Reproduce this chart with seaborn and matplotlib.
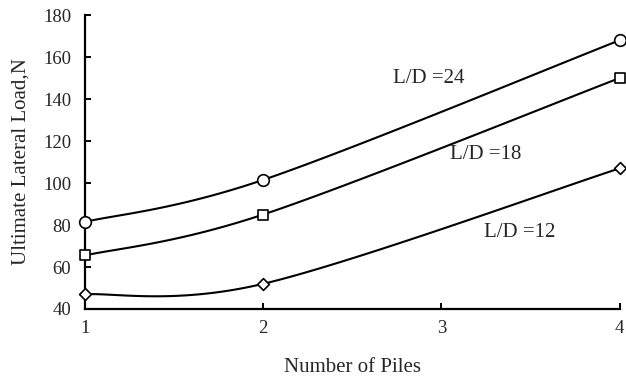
import numpy as np
import pandas as pd
import matplotlib
matplotlib.use("Agg")
import matplotlib.pyplot as plt
import seaborn as sns

# Number of piles in the group
piles = [1, 2, 4]

# Ultimate lateral load (N) for each slenderness ratio
load_ld24 = [81.5, 101.5, 168.0]
load_ld18 = [65.5, 85.0, 150.0]
load_ld12 = [47.0, 52.0, 107.0]

series_names = ["L/D =24", "L/D =18", "L/D =12"]
series_markers = ["o", "s", "D"]
series_sizes = [70, 58, 36]
label_pos = [(2.93, 150.0), (3.25, 113.8), (3.44, 76.2)]

x_ticks = [1, 2, 3, 4]
y_ticks = [40, 60, 80, 100, 120, 140, 160, 180]


def smooth_curve(xs, ys, n=60):
    """Bezier smoothing through the points (tension 1/6, endpoints repeated)."""
    pts = np.column_stack([xs, ys]).astype(float)
    ext = np.vstack([pts[0], pts, pts[-1]])
    out = []
    t = np.linspace(0, 1, n)[:, None]
    for i in range(len(pts) - 1):
        p0, p1, p2, p3 = ext[i], ext[i + 1], ext[i + 2], ext[i + 3]
        c1 = p1 + (p2 - p0) / 6.0
        c2 = p2 - (p3 - p1) / 6.0
        seg = ((1 - t) ** 3) * p1 + 3 * ((1 - t) ** 2) * t * c1 + 3 * (1 - t) * t ** 2 * c2 + t ** 3 * p2
        out.append(seg if i == 0 else seg[1:])
    curve = np.vstack(out)
    return curve[:, 0], curve[:, 1]


sns.set_style("ticks")
plt.rcParams["font.family"] = ["Liberation Serif", "DejaVu Serif"]

fig = plt.figure(figsize=(6.26, 3.79), dpi=100)
ax = fig.add_axes([0.1358, 0.1847, 0.8542, 0.7757])

all_loads = [load_ld24, load_ld18, load_ld12]
for name, loads, mk, sz, (tx, ty) in zip(series_names, all_loads, series_markers, series_sizes, label_pos):
    sx, sy = smooth_curve(piles, loads)
    curve_df = pd.DataFrame({"piles": sx, "load": sy})
    sns.lineplot(data=curve_df, x="piles", y="load", ax=ax, color="black",
                 linewidth=1.5, sort=False, estimator=None)
    point_df = pd.DataFrame({"piles": piles, "load": loads})
    sns.scatterplot(data=point_df, x="piles", y="load", ax=ax, marker=mk, s=sz,
                    facecolor="white", edgecolor="black", linewidth=1.2,
                    zorder=5, clip_on=False)
    ax.text(tx, ty, name, ha="center", va="center", fontsize=15)

ax.set_xlim(1, 4)
ax.set_ylim(40, 180)
ax.set_xticks(x_ticks)
ax.set_yticks(y_ticks)
ax.tick_params(direction="in", length=4, width=1.4, labelsize=13.5, color="black")
ax.tick_params(axis="x", pad=8)
ax.tick_params(axis="y", pad=10)
for side in ["top", "right"]:
    ax.spines[side].set_visible(False)
for side in ["left", "bottom"]:
    ax.spines[side].set_linewidth(1.6)
    ax.spines[side].set_color("black")

ax.set_xlabel("Number of Piles", fontsize=15, labelpad=15)
ax.set_ylabel("Ultimate Lateral Load,N", fontsize=15, labelpad=9)

fig.savefig("out.png", dpi=100)
